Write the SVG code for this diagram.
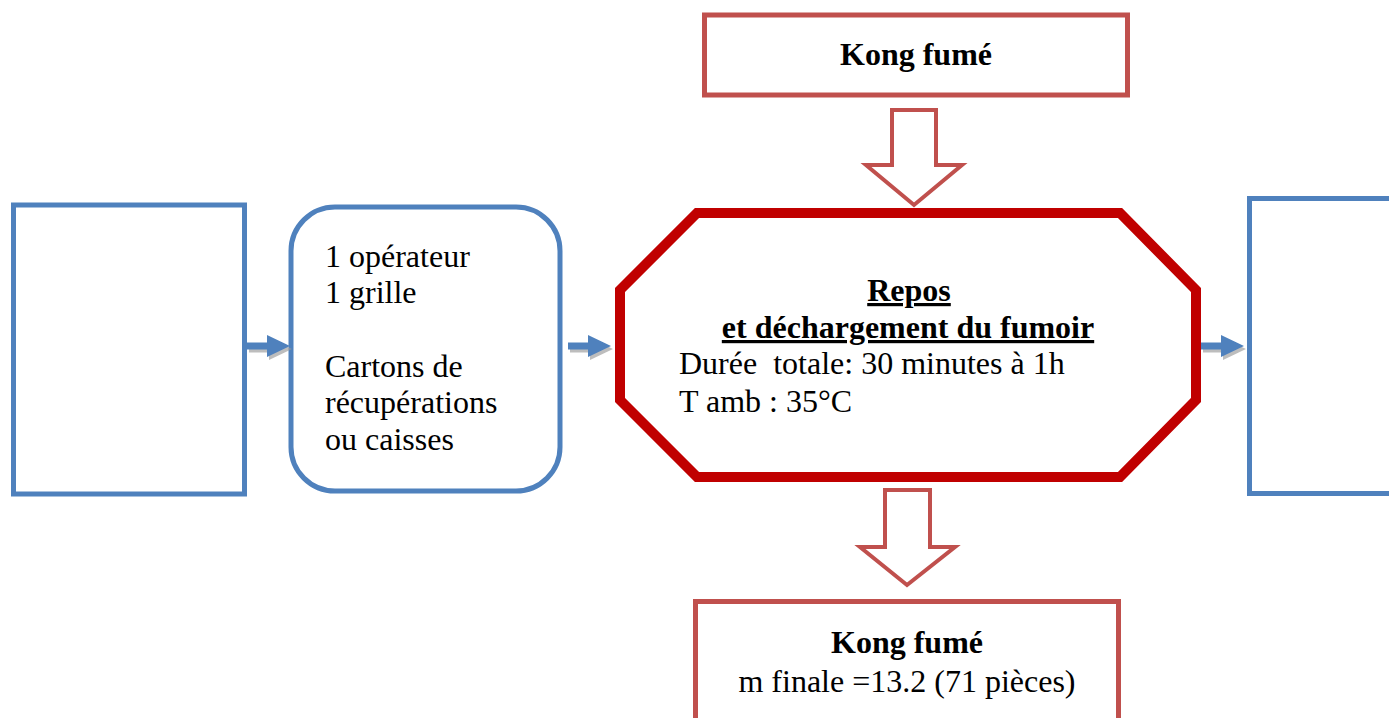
<svg xmlns="http://www.w3.org/2000/svg" width="1389" height="718" viewBox="0 0 1389 718">
  <style>
    .txt { font-family: "Liberation Serif", "Times New Roman", serif; font-size: 32px; fill: #000; }
    .b { font-weight: bold; }
    .mid { text-anchor: middle; }
    .ul { text-decoration: underline; }
    .blue { fill: #fff; stroke: #4F81BD; stroke-width: 5; }
    .redbox { fill: #fff; stroke: #C0504D; stroke-width: 5; }
    .blockarrow { fill: #fff; stroke: #C0504D; stroke-width: 4; stroke-linejoin: miter; }
    .flow { fill: #4F81BD; }
    .shadow { fill: #9a9a9a; opacity: 0.65; }
  </style>
  <defs>
    <!-- small blue flow arrow, origin at shaft start, pointing right -->
    <polygon id="flowArrow" points="0,-3.5 20,-3.5 20,-11 43,0 20,11 20,3.5 0,3.5"/>
  </defs>
  <rect width="1389" height="718" fill="#fff"/>

  <!-- empty input box -->
  <g id="node-input">
    <rect class="blue" x="13.5" y="205" width="231" height="289"/>
  </g>

  <!-- resources -->
  <g id="node-resources">
    <rect class="blue" x="291" y="207" width="269" height="284" rx="44" ry="44"/>
    <text class="txt" x="325" y="267">1 opérateur</text>
    <text class="txt" x="325" y="303">1 grille</text>
    <text class="txt" x="325" y="377">Cartons de</text>
    <text class="txt" x="325" y="413">récupérations</text>
    <text class="txt" x="325" y="450">ou caisses</text>
  </g>

  <!-- main process step -->
  <g id="node-process">
    <polygon points="697,213 1120,213 1196,290 1196,400 1120,477 697,477 620,400 620,290"
             fill="#fff" stroke="#C00000" stroke-width="10" stroke-linejoin="miter"/>
    <text class="txt b mid ul" x="909" y="301">Repos</text>
    <text class="txt b mid ul" x="908" y="338">et déchargement du fumoir</text>
    <text class="txt" x="679" y="374" xml:space="preserve">Durée  totale: 30 minutes à 1h</text>
    <text class="txt" x="679" y="412">T amb : 35°C</text>
  </g>

  <!-- empty output box (runs past the right edge) -->
  <g id="node-output">
    <rect class="blue" x="1249.5" y="198.5" width="160" height="295"/>
  </g>

  <!-- product in -->
  <g id="node-product-in">
    <rect class="redbox" x="704.5" y="15" width="423" height="80"/>
    <text class="txt b mid" x="916" y="65">Kong fumé</text>
  </g>

  <!-- product out -->
  <g id="node-product-out">
    <rect class="redbox" x="695.5" y="601.5" width="423" height="130"/>
    <text class="txt b mid" x="907" y="653">Kong fumé</text>
    <text class="txt mid" x="907" y="692">m finale =13.2 (71 pièces)</text>
  </g>

  <!-- connectors -->
  <g id="connectors">
    <!-- block arrows for the product flow -->
    <polygon class="blockarrow" points="892,110 936,110 936,165 962,165 914,205 866,165 892,165"/>
    <polygon class="blockarrow" points="885,490 930,490 930,547 955,547 907,585 860,547 885,547"/>

    <!-- blue flow arrows with soft shadow -->
    <use href="#flowArrow" class="shadow" transform="translate(249,349)"/>
    <use href="#flowArrow" class="flow" transform="translate(247,346)"/>

    <use href="#flowArrow" class="shadow" transform="translate(570,349)"/>
    <use href="#flowArrow" class="flow" transform="translate(568,346)"/>

    <use href="#flowArrow" class="shadow" transform="translate(1203,349)"/>
    <use href="#flowArrow" class="flow" transform="translate(1201,346)"/>
  </g>
</svg>
